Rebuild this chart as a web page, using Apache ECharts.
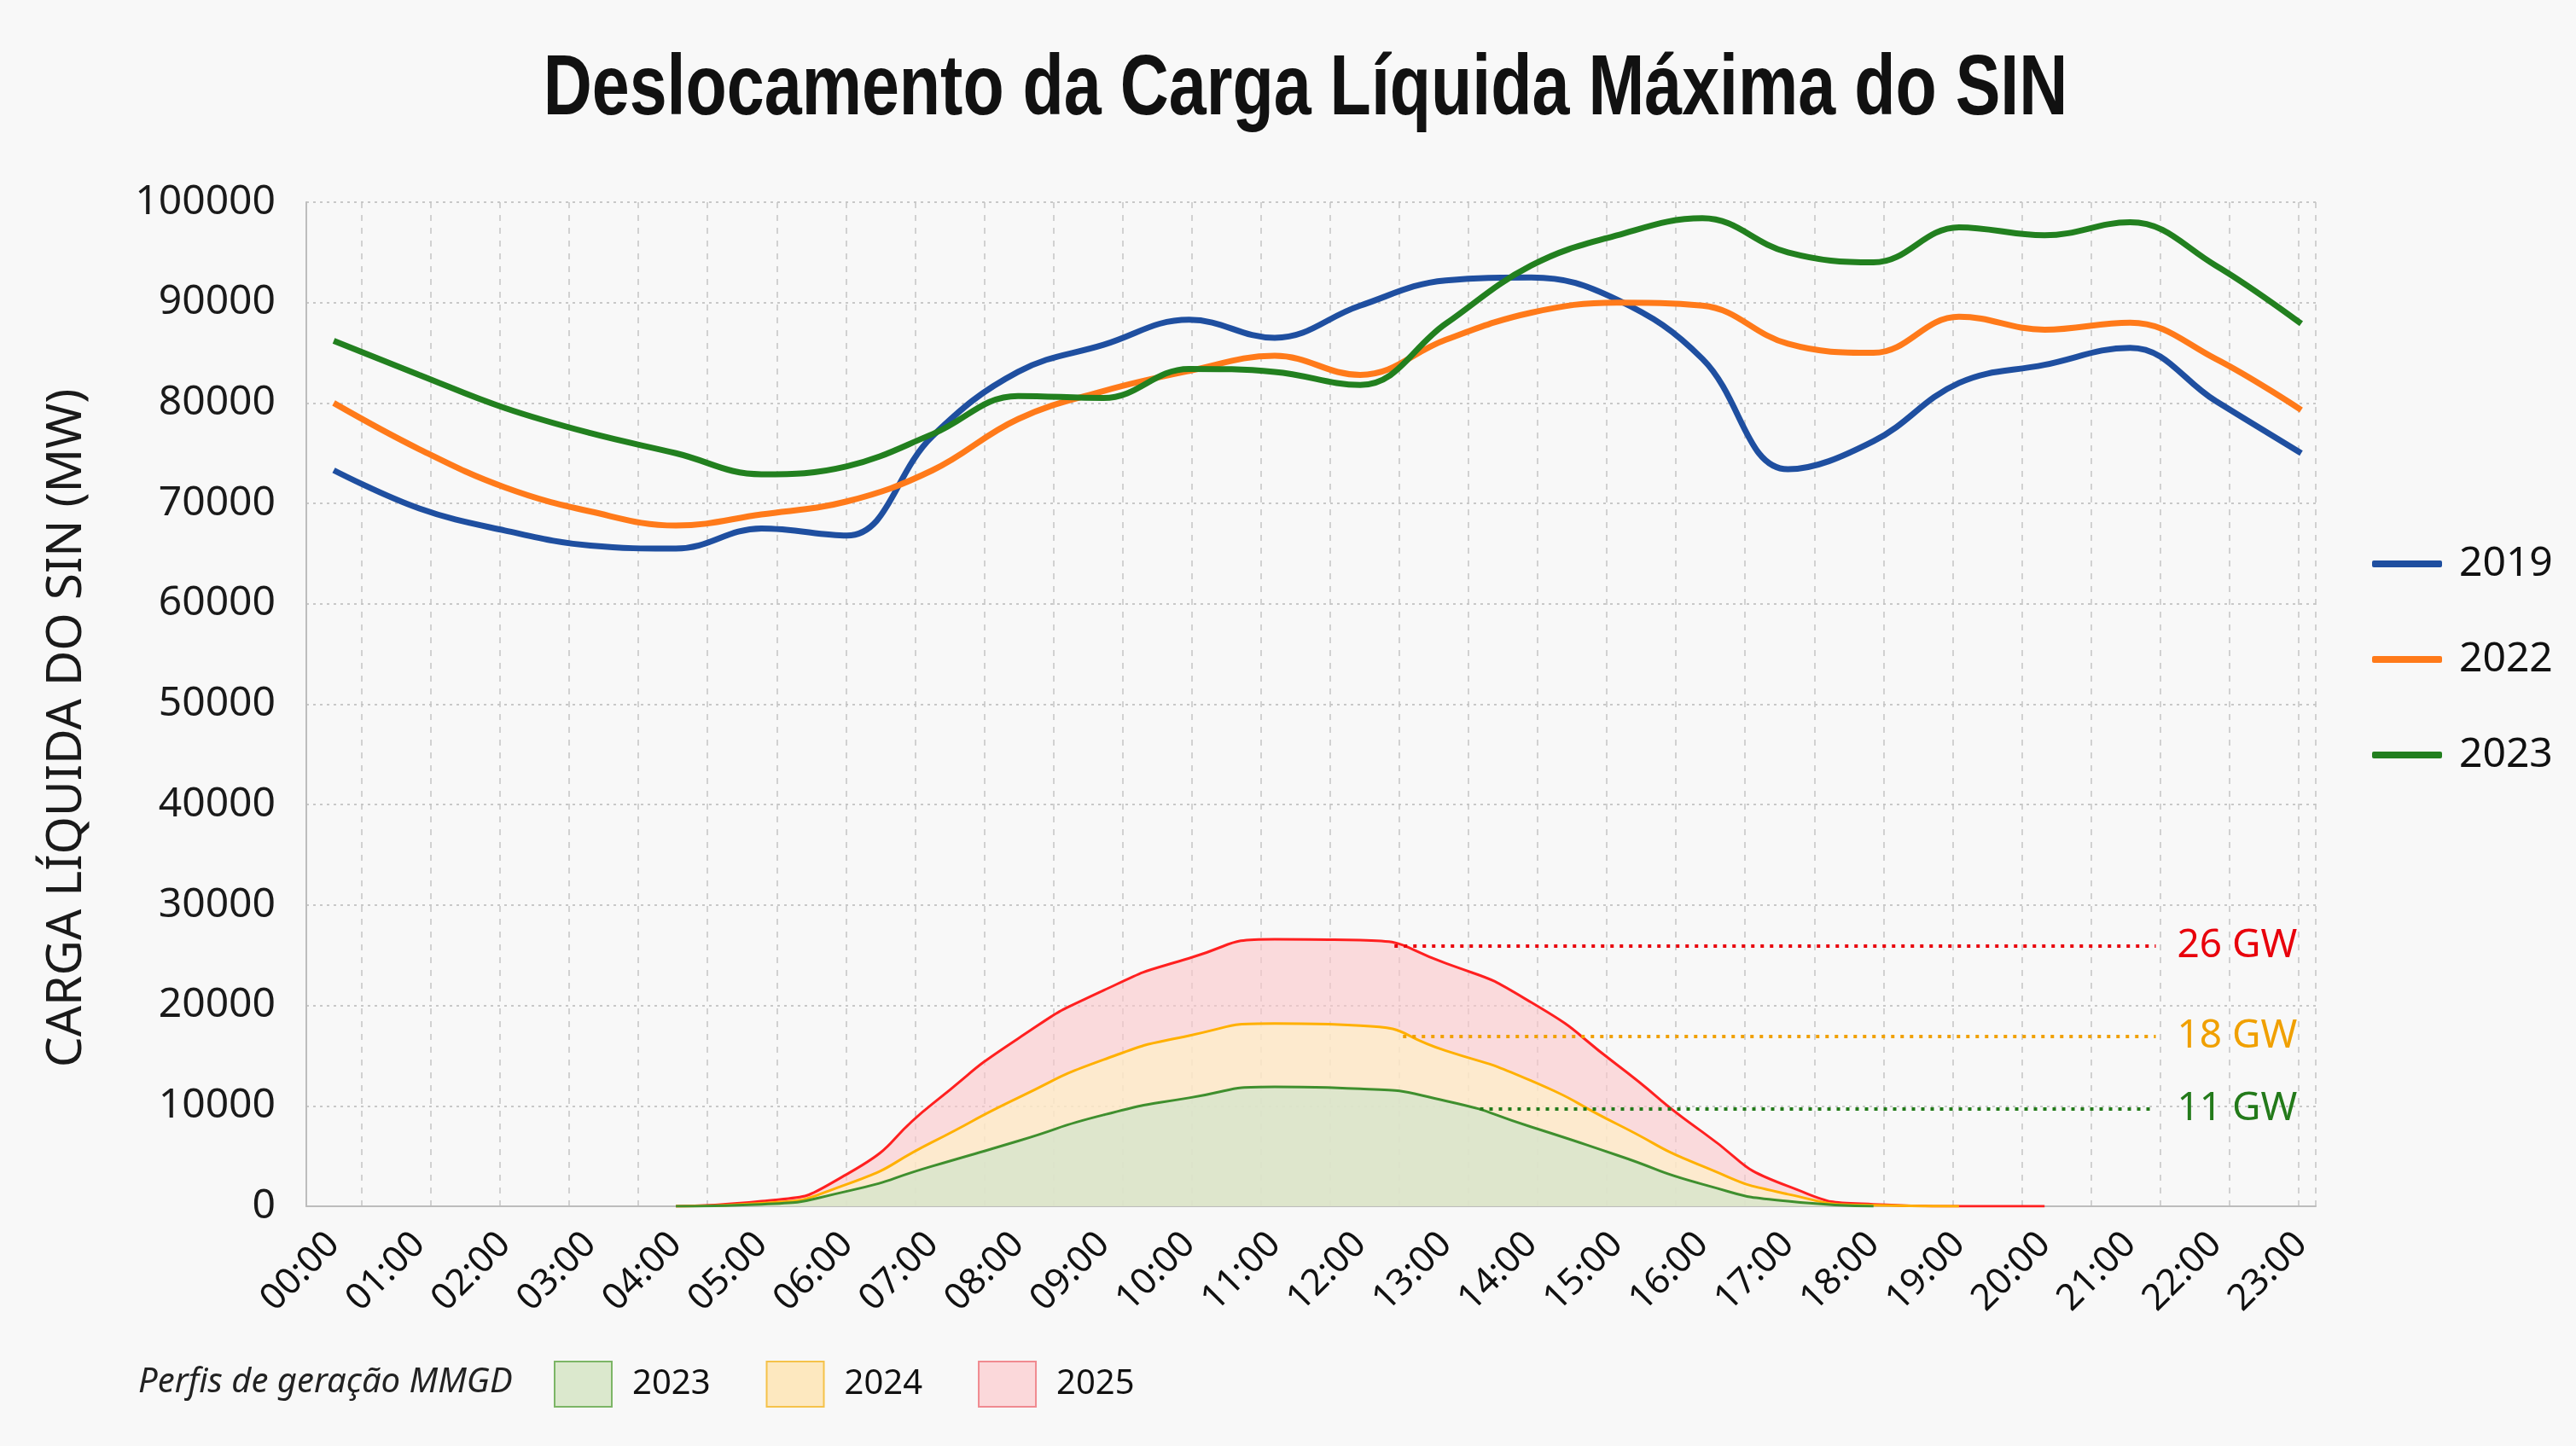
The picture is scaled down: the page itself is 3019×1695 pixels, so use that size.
<!DOCTYPE html>
<html>
<head>
<meta charset="utf-8">
<script src="https://cdn.jsdelivr.net/npm/echarts@6/dist/echarts.min.js"></script>
<style>
  html, body { margin: 0; padding: 0; background: #f8f8f8; }
  #chart { width: 3019px; height: 1695px; }
</style>
</head>
<body>
<div id="chart"></div>
<script>
// eixo das horas
const hours = ['00:00', '01:00', '02:00', '03:00', '04:00', '05:00', '06:00', '07:00',
  '08:00', '09:00', '10:00', '11:00', '12:00', '13:00', '14:00', '15:00',
  '16:00', '17:00', '18:00', '19:00', '20:00', '21:00', '22:00', '23:00']

// carga liquida maxima (MW)
const lineYears = ['2019', '2022', '2023']
const load2019 = [73300, 69500, 67300, 65800, 65500, 67500, 66800, 76700, 83100, 85800, 88300, 86500,
  89700, 92200, 92500, 90300, 84400, 73400, 76200, 82000, 83800, 85500, 80200, 75000]
const load2022 = [80000, 75400, 71600, 69200, 67800, 68900, 70200, 73300, 78400, 81200, 83200, 84700,
  82800, 86300, 89000, 90000, 89700, 85900, 85000, 88600, 87300, 88000, 84400, 79300]
const load2023 = [86200, 82800, 79500, 77000, 75000, 72900, 73700, 76900, 80700, 80500, 83400, 83100,
  81800, 87900, 93700, 96700, 98400, 95000, 94000, 97500, 96700, 98000, 93700, 87900]

// perfis de geracao MMGD (MW), a partir das 04:00
const mmgdYears = ['2023', '2024', '2025']
const mmgdStart = 4
const mmgd2023 = [0, 200, 1500, 4000, 6500, 9100, 10800, 11900, 11700, 10500, 7900, 5100, 2200, 500, 0]
const mmgd2024 = [0, 300, 2200, 6400, 10800, 14600, 17000, 18200, 18000, 15500, 12500, 8200, 4000, 1200, 100, 0]
const mmgd2025 = [0, 500, 3200, 10200, 16700, 21500, 24700, 26600, 26500, 24200, 20300, 14100, 7400, 2000, 200, 0, 0]

// linhas de referencia (pico)
const peakLabels = ['11 GW', '18 GW', '26 GW']
const peakLevels = [9700, 16900, 25900]
const peakFrom = [13.4, 12.5, 12.4]
const peakTo = 21.3

const lineColors = ['#1f4fa0', '#ff7a1a', '#22801f']
const mmgdLine = ['#3f8f2e', '#ffb000', '#ff2020']
const mmgdFill = ['rgba(201,227,204,0.6)', 'rgba(255,245,197,0.6)', 'rgba(251,198,201,0.6)']
const mmgdLegendFill = ['#dbe8cd', '#fde8bf', '#fbd8da']
const mmgdLegendBorder = ['#7cb566', '#f5c24a', '#f08a90']
const peakColors = ['#237a1a', '#f0a000', '#e8000b']

const toPairs = (vals, start) => vals.map((v, i) => [start + i, v])

const chart = echarts.init(document.getElementById('chart'))

const loads = [load2019, load2022, load2023]
const lineSeries = lineYears.map((y, i) => ({
  name: y,
  type: 'line',
  data: toPairs(loads[i], 0),
  smooth: 0.4,
  symbol: 'none',
  color: lineColors[i],
  lineStyle: { width: 7, color: lineColors[i] },
  z: 5
}))

const mmgd = [mmgd2023, mmgd2024, mmgd2025]
// desenha 2025 atras, 2023 na frente
const areaSeries = [2, 1, 0].map(i => ({
  name: 'MMGD ' + mmgdYears[i],
  type: 'line',
  data: toPairs(mmgd[i], mmgdStart),
  smooth: 0.6,
  symbol: 'none',
  color: mmgdLine[i],
  lineStyle: { width: 3, color: mmgdLine[i] },
  areaStyle: { color: mmgdFill[i], opacity: 1 },
  markLine: {
    silent: true,
    symbol: ['none', 'none'],
    lineStyle: { type: [4, 7], width: 4, color: peakColors[i] },
    label: {
      show: true,
      position: 'end',
      distance: 25,
      formatter: peakLabels[i],
      color: peakColors[i],
      fontSize: 46,
      fontFamily: 'Noto Sans'
    },
    data: [[{ coord: [peakFrom[i], peakLevels[i]] }, { coord: [peakTo, peakLevels[i]] }]]
  }
}))

chart.setOption({
  animation: false,
  backgroundColor: '#f8f8f8',
  textStyle: { fontFamily: 'Noto Sans' },
  title: {
    text: 'Perfis de geração MMGD',
    left: 157,
    top: 1596,
    textStyle: { fontFamily: 'Noto Sans', fontStyle: 'italic', fontWeight: 'normal', fontSize: 40, color: '#222' }
  },
  // titulo principal em fonte condensada (escala horizontal)
  graphic: [{
    type: 'text',
    x: 1530,
    y: 106,
    scaleX: 0.79,
    style: {
      text: 'Deslocamento da Carga Líquida Máxima do SIN',
      font: "bold 100px 'Liberation Sans', sans-serif",
      fill: '#111',
      textAlign: 'center',
      textVerticalAlign: 'middle'
    }
  }],
  legend: [
    {
      orient: 'vertical',
      left: 2775,
      top: 626,
      icon: 'roundRect',
      itemWidth: 82,
      itemHeight: 8,
      itemGap: 52,
      itemStyle: { borderWidth: 0 },
      data: lineYears,
      textStyle: { fontSize: 48, color: '#111', lineHeight: 60, padding: [0, 0, 0, 15] }
    },
    {
      orient: 'horizontal',
      left: 644,
      top: 1590,
      icon: 'rect',
      itemWidth: 67,
      itemHeight: 53,
      itemGap: 65,
      data: mmgdYears.map((y, i) => ({
        name: 'MMGD ' + y,
        itemStyle: { color: mmgdLegendFill[i], borderColor: mmgdLegendBorder[i], borderWidth: 2 }
      })),
      formatter: n => n.replace('MMGD ', ''),
      textStyle: { fontSize: 40, color: '#111', padding: [0, 0, 0, 19] }
    }
  ],
  grid: { left: 359, right: 305, top: 237, bottom: 281 },
  xAxis: [
    {
      type: 'value',
      min: -0.32,
      max: 23.17,
      minInterval: 1,
      maxInterval: 1,
      axisLine: { show: true, onZero: false, lineStyle: { color: '#bdbdbd', width: 2 } },
      axisTick: { show: false },
      splitLine: { show: false },
      axisLabel: {
        rotate: 45,
        margin: 38,
        fontSize: 43,
        color: '#111',
        showMinLabel: false,
        showMaxLabel: false,
        formatter: v => (Number.isInteger(v) && hours[v]) ? hours[v] : ''
      }
    },
    {
      // grade vertical tracejada
      type: 'value',
      position: 'top',
      min: -0.8,
      max: 28.25,
      minInterval: 1,
      maxInterval: 1,
      axisLine: { show: false },
      axisTick: { show: false },
      axisLabel: { show: false },
      splitLine: { show: true, lineStyle: { type: [7, 8], color: '#c4c4c4', width: 1.5 } }
    }
  ],
  yAxis: {
    type: 'value',
    min: 0,
    max: 100000,
    interval: 10000,
    name: 'CARGA LÍQUIDA DO SIN (MW)',
    nameLocation: 'middle',
    nameGap: 252,
    nameTextStyle: { fontSize: 57, color: '#1a1a1a', padding: [0, 56, 0, 0] },
    axisLine: { show: true, onZero: false, lineStyle: { color: '#bdbdbd', width: 2 } },
    axisTick: { show: false },
    axisLabel: { fontSize: 48, color: '#1a1a1a', margin: 36, formatter: v => String(v) },
    splitLine: { lineStyle: { type: [3, 5], color: '#c8c8c8', width: 2 } }
  },
  series: areaSeries.concat(lineSeries)
})
</script>
</body>
</html>
